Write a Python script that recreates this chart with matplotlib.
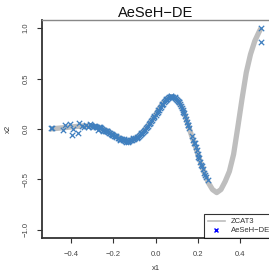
import matplotlib
matplotlib.use("Agg")
import matplotlib.pyplot as plt
from matplotlib.lines import Line2D

plt.rcParams['font.family'] = ['Liberation Sans', 'DejaVu Sans']

# ZCAT3 Pareto front
front_x = [-0.50, -0.45, -0.40, -0.35, -0.30, -0.26, -0.22, -0.19, -0.16, -0.14,
           -0.12, -0.10, -0.08, -0.06, -0.04, -0.02, 0.00, 0.02, 0.04, 0.06,
           0.075, 0.09, 0.11, 0.13, 0.15, 0.17, 0.19, 0.21, 0.23, 0.25,
           0.27, 0.29, 0.31, 0.33, 0.35, 0.37, 0.39, 0.41, 0.43, 0.45,
           0.47, 0.49, 0.50]
front_y = [0.00, 0.01, 0.02, 0.03, 0.03, 0.01, -0.03, -0.07, -0.10, -0.12,
           -0.115, -0.10, -0.07, -0.03, 0.02, 0.08, 0.14, 0.21, 0.27, 0.31,
           0.32, 0.31, 0.27, 0.19, 0.07, -0.06, -0.18, -0.31, -0.43, -0.53,
           -0.60, -0.63, -0.60, -0.52, -0.42, -0.25, 0.02, 0.30, 0.56, 0.74,
           0.87, 0.96, 1.00]

# AeSeH-DE solutions
sol_x = [-0.496, -0.49, -0.44, -0.43, -0.407, -0.397, -0.39, -0.364, -0.369, -0.35,
         -0.34, -0.33, -0.312, -0.32, -0.305, -0.30, -0.295, -0.29, -0.285, -0.28,
         -0.275, -0.274, -0.27, -0.265, -0.26, -0.255, -0.25, -0.245, -0.24, -0.235,
         -0.23, -0.225, -0.22, -0.215, -0.21, -0.205, -0.20, -0.195, -0.19, -0.185,
         -0.18, -0.175, -0.17, -0.165, -0.16, -0.155, -0.15, -0.145, -0.14, -0.135,
         -0.13, -0.125, -0.12, -0.115, -0.11, -0.105, -0.10, -0.095, -0.09, -0.085,
         -0.08, -0.075, -0.07, -0.065, -0.06, -0.055, -0.05, -0.045, -0.04, -0.035,
         -0.03, -0.025, -0.02, -0.015, -0.01, -0.005, 0.00, 0.005, 0.01, 0.015,
         0.02, 0.025, 0.03, 0.035, 0.04, 0.045, 0.05, 0.055, 0.06, 0.065,
         0.07, 0.075, 0.08, 0.085, 0.09, 0.095, 0.10, 0.105, 0.11, 0.115,
         0.12, 0.125, 0.13, 0.135, 0.14, 0.145, 0.15, 0.155, 0.16, 0.172,
         0.178, 0.183, 0.19, 0.195, 0.20, 0.207, 0.213, 0.22, 0.226, 0.232,
         0.24, 0.25, 0.501, 0.501,
         -0.262, -0.248, -0.228, -0.208, -0.188, -0.168, -0.148, -0.128, -0.108, -0.088,
         -0.068, -0.048, -0.028, -0.008, 0.012, 0.032, 0.052, 0.072, 0.092, 0.112,
         0.132, 0.152, 0.186, 0.203, 0.217, 0.236]
sol_y = [0.01, 0.005, -0.01, 0.04, 0.05, -0.06, 0.00, 0.06, -0.04, 0.03,
         0.02, 0.035, 0.05, 0.02, 0.035, 0.03, 0.02, 0.03, 0.025, 0.02,
         0.015, -0.01, 0.015, 0.01, 0.005, 0.0, -0.005, -0.01, -0.015, -0.02,
         -0.02, -0.03, -0.035, -0.04, -0.05, -0.05, -0.06, -0.065, -0.07, -0.08,
         -0.085, -0.09, -0.095, -0.10, -0.10, -0.11, -0.11, -0.12, -0.125, -0.12,
         -0.115, -0.12, -0.11, -0.11, -0.105, -0.10, -0.095, -0.09, -0.08, -0.075,
         -0.07, -0.06, -0.05, -0.04, -0.03, -0.02, -0.01, 0.005, 0.02, 0.03,
         0.05, 0.06, 0.08, 0.09, 0.11, 0.12, 0.14, 0.16, 0.17, 0.19,
         0.21, 0.22, 0.24, 0.25, 0.27, 0.28, 0.29, 0.30, 0.31, 0.315,
         0.32, 0.325, 0.32, 0.315, 0.31, 0.30, 0.29, 0.28, 0.27, 0.25,
         0.23, 0.21, 0.19, 0.16, 0.13, 0.10, 0.07, 0.04, 0.01, -0.07,
         -0.11, -0.14, -0.18, -0.21, -0.25, -0.29, -0.33, -0.37, -0.40, -0.44,
         -0.48, -0.51, 1.00, 0.865,
         0.02, -0.015, -0.015, -0.06, -0.07, -0.11, -0.10, -0.13, -0.09, -0.09,
         -0.04, -0.005, 0.06, 0.13, 0.19, 0.25, 0.30, 0.33, 0.32, 0.27,
         0.17, 0.04, -0.14, -0.28, -0.36, -0.46]

xticks = [-0.4, -0.2, 0.0, 0.2, 0.4]
yticks = [-1.0, -0.5, 0.0, 0.5, 1.0]

W, H = 269, 274
fig = plt.figure(figsize=(W / 100, H / 100), dpi=100)
left, right, top, bottom = 41.5, 269.5, 20, 238
ax = fig.add_axes([left / W, 1 - bottom / H, (right - left) / W, (bottom - top) / H])

ax.plot(front_x, front_y, color='#BEBEBE', lw=3.8, solid_capstyle='butt', zorder=2)
ax.scatter(sol_x, sol_y, marker='x', s=15, linewidths=0.9, color='#3F7FBF', zorder=3)

ax.set_xlim(-0.54, 0.54)
ax.set_ylim(-1.08, 1.08)
ax.set_xticks(xticks)
ax.set_yticks(yticks)
ax.set_xticklabels([f"{v:.1f}".replace('-', '\u2212') for v in xticks])
ax.set_yticklabels([f"{v:.1f}".replace('-', '\u2212') for v in yticks], rotation=90, va='center')
ax.tick_params(axis='both', direction='out', length=3.5, width=0.8, colors='#333333',
               labelsize=5.5, labelcolor='#444444')
ax.tick_params(axis='x', pad=6)
ax.tick_params(axis='y', pad=5)

for s in ['left', 'bottom']:
    ax.spines[s].set_color('#333333')
    ax.spines[s].set_linewidth(1.3)
ax.spines['top'].set_color('#888888')
ax.spines['top'].set_linewidth(1.0)
ax.spines['right'].set_visible(False)

ax.set_title('AeSeH\u2212DE', fontsize=10.5, pad=2, color='#111111')
ax.set_xlabel('x1', fontsize=5.5, color='#333333', labelpad=5)
ax.set_ylabel('x2', fontsize=5.5, color='#333333', labelpad=8)

handles = [Line2D([], [], color='#BEBEBE', lw=1.2),
           Line2D([], [], color='blue', marker='x', ls='none', markersize=3, markeredgewidth=1.0)]
leg = ax.legend(handles, ['ZCAT3', 'AeSeH\u2212DE'], loc='lower left',
                bbox_to_anchor=((204 - left) / (right - left), 0.0),
                fontsize=5.5, frameon=True, fancybox=False, borderpad=0.5,
                handlelength=2.2, handletextpad=0.8, labelspacing=0.2, borderaxespad=0)
leg.get_frame().set_edgecolor('black')
leg.get_frame().set_linewidth(0.8)
for t in leg.get_texts():
    t.set_color('#333333')

fig.savefig('out.png', dpi=100)
